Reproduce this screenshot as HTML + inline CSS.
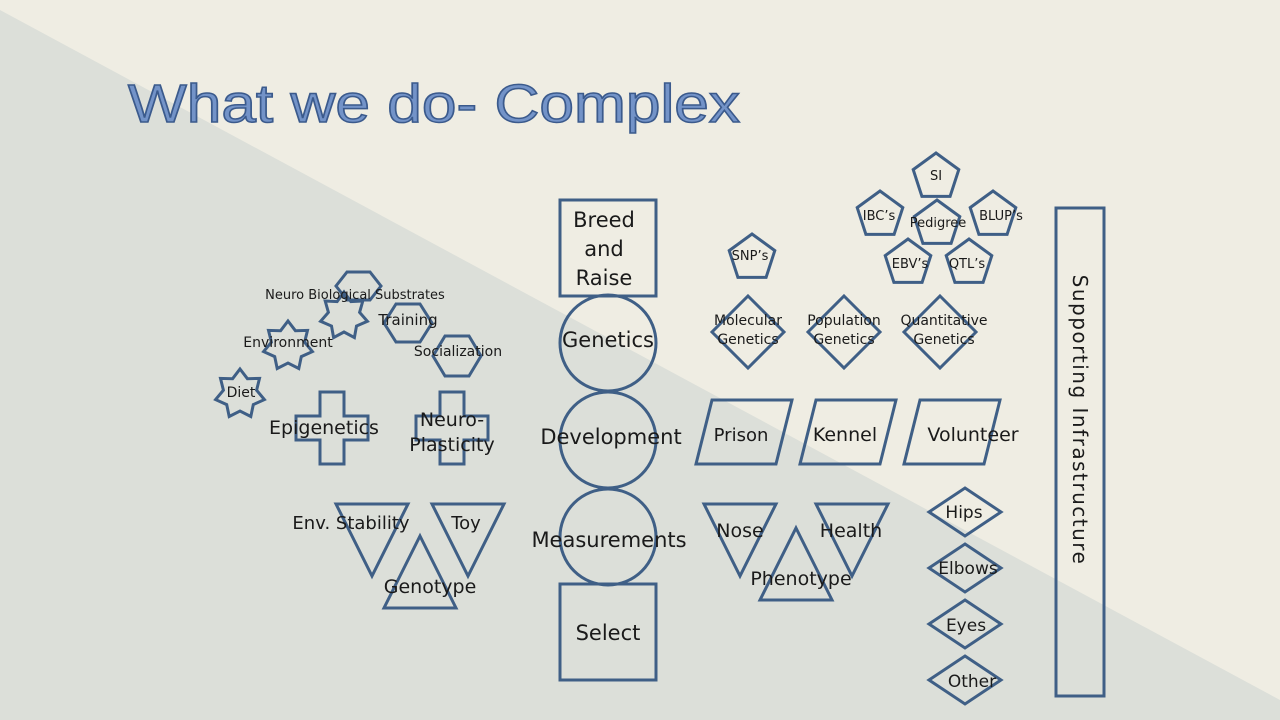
<!DOCTYPE html>
<html><head><meta charset="utf-8"><style>
html,body{margin:0;padding:0;width:1280px;height:720px;overflow:hidden;background:#efede3}
svg{display:block}
text{font-family:"DejaVu Sans","Liberation Sans",sans-serif;fill:#1a1a1a}
</style></head><body>
<svg width="1280" height="720" viewBox="0 0 1280 720" xmlns="http://www.w3.org/2000/svg">
<rect width="1280" height="720" fill="#efede3"/>
<polygon points="0,10 1280,700 1280,720 0,720" fill="#dcdfd9"/>
<text x="128" y="122" font-size="54" textLength="612" lengthAdjust="spacingAndGlyphs" style="fill:#7393c8;stroke:#3b5a8c;stroke-width:1.5;font-family:'Liberation Sans',sans-serif">What we do- Complex</text>

<g fill="none" stroke="#3f5f86" stroke-width="3">
<rect x="560" y="200" width="96" height="96"/>
<circle cx="608" cy="343" r="48"/>
<circle cx="608" cy="440" r="48"/>
<circle cx="608" cy="537" r="48"/>
<rect x="560" y="584" width="96" height="96"/>
<polygon points="320,392 344,392 344,416 368,416 368,440 344,440 344,464 320,464 320,440 296,440 296,416 320,416"/>
<polygon points="440,392 464,392 464,416 488,416 488,440 464,440 464,464 440,464 440,440 416,440 416,416 440,416"/>
<polygon points="336,504 408,504 372,576"/>
<polygon points="432,504 504,504 468,576"/>
<polygon points="420,536 456,608 384,608"/>
<polygon points="704,504 776,504 740,576"/>
<polygon points="816,504 888,504 852,576"/>
<polygon points="796,528 832,600 760,600"/>
<polygon points="712,400 792,400 776,464 696,464"/>
<polygon points="816,400 896,400 880,464 800,464"/>
<polygon points="920,400 1000,400 984,464 904,464"/>
<polygon points="748,296 784,332 748,368 712,332"/>
<polygon points="844,296 880,332 844,368 808,332"/>
<polygon points="940,296 976,332 940,368 904,332"/>
<polygon points="965,488 1001,512 965,536 929,512"/>
<polygon points="965,544 1001,568 965,592 929,568"/>
<polygon points="965,600 1001,624 965,648 929,624"/>
<polygon points="965,656 1001,680 965,704 929,680"/>
<rect x="1056" y="208" width="48" height="488"/>
<polygon points="347,272 370,272 381,286 370,300 347,300 336,286"/>
<polygon points="396,304 420,304 432,323 420,342 396,342 384,323"/>
<polygon points="445,336 469,336 481,356 469,376 445,376 433,356"/>
</g>
<g fill="none" stroke="#3f5f86" stroke-width="3" id="stars"></g>
<g fill="none" stroke="#3f5f86" stroke-width="3" id="pents"></g>
<script>
function star(cx,cy,R,r){var p=[];for(var i=0;i<14;i++){var a=-Math.PI/2+i*Math.PI/7;var rr=i%2?r:R;p.push((cx+rr*Math.cos(a)).toFixed(1)+','+(cy+rr*Math.sin(a)).toFixed(1));}return p.join(' ');}
function pent(cx,cy,R){var p=[];for(var i=0;i<5;i++){var a=-Math.PI/2+i*2*Math.PI/5;p.push((cx+R*Math.cos(a)).toFixed(1)+','+(cy+R*Math.sin(a)).toFixed(1));}return p.join(' ');}
var ns="http://www.w3.org/2000/svg";
[[240,394,25,17],[288,346,25,17],[344,316,24,16]].forEach(function(s){var e=document.createElementNS(ns,'polygon');e.setAttribute('points',star(s[0],s[1],s[2],s[3]));document.getElementById('stars').appendChild(e);});
[[752,258],[936,177],[880,215],[937,224],[993,215],[908,263],[969,263]].forEach(function(s){var e=document.createElementNS(ns,'polygon');e.setAttribute('points',pent(s[0],s[1],24));document.getElementById('pents').appendChild(e);});
</script>

<g text-anchor="middle" font-size="21">
<text x="604" y="227">Breed</text>
<text x="604" y="256">and</text>
<text x="604" y="285">Raise</text>
<text x="608" y="347">Genetics</text>
<text x="611" y="444">Development</text>
<text x="609" y="547">Measurements</text>
<text x="608" y="640">Select</text>
<text x="324" y="434" font-size="19">Epigenetics</text>
<text x="452" y="426" font-size="19">Neuro-</text>
<text x="452" y="451" font-size="19">Plasticity</text>
<text x="351" y="529" font-size="18">Env. Stability</text>
<text x="466" y="529" font-size="18">Toy</text>
<text x="430" y="593" font-size="19">Genotype</text>
<text x="741" y="441" font-size="18">Prison</text>
<text x="845" y="441" font-size="19">Kennel</text>
<text x="973" y="441" font-size="19">Volunteer</text>
<text x="740" y="537" font-size="19">Nose</text>
<text x="851" y="537" font-size="19">Health</text>
<text x="801" y="585" font-size="19">Phenotype</text>
<text x="964" y="518" font-size="17">Hips</text>
<text x="968" y="574" font-size="17">Elbows</text>
<text x="966" y="631" font-size="17">Eyes</text>
<text x="972" y="687" font-size="17">Other</text>
<text x="748" y="325" font-size="14">Molecular</text>
<text x="748" y="344" font-size="14">Genetics</text>
<text x="844" y="325" font-size="14">Population</text>
<text x="844" y="344" font-size="14">Genetics</text>
<text x="944" y="325" font-size="14">Quantitative</text>
<text x="944" y="344" font-size="14">Genetics</text>
<text x="750" y="260" font-size="13">SNP’s</text>
<text x="936" y="180" font-size="13">SI</text>
<text x="879" y="220" font-size="13">IBC’s</text>
<text x="938" y="227" font-size="13">Pedigree</text>
<text x="1001" y="220" font-size="13">BLUP’s</text>
<text x="910" y="268" font-size="13">EBV’s</text>
<text x="967" y="268" font-size="13">QTL’s</text>
<text x="355" y="299" font-size="13">Neuro Biological Substrates</text>
<text x="408" y="325" font-size="15">Training</text>
<text x="458" y="356" font-size="14">Socialization</text>
<text x="288" y="347" font-size="14">Environment</text>
<text x="241" y="397" font-size="14">Diet</text>
</g>
<text transform="translate(1073,420) rotate(90)" text-anchor="middle" font-size="20" letter-spacing="1.5">Supporting  Infrastructure</text>
</svg>
</body></html>
